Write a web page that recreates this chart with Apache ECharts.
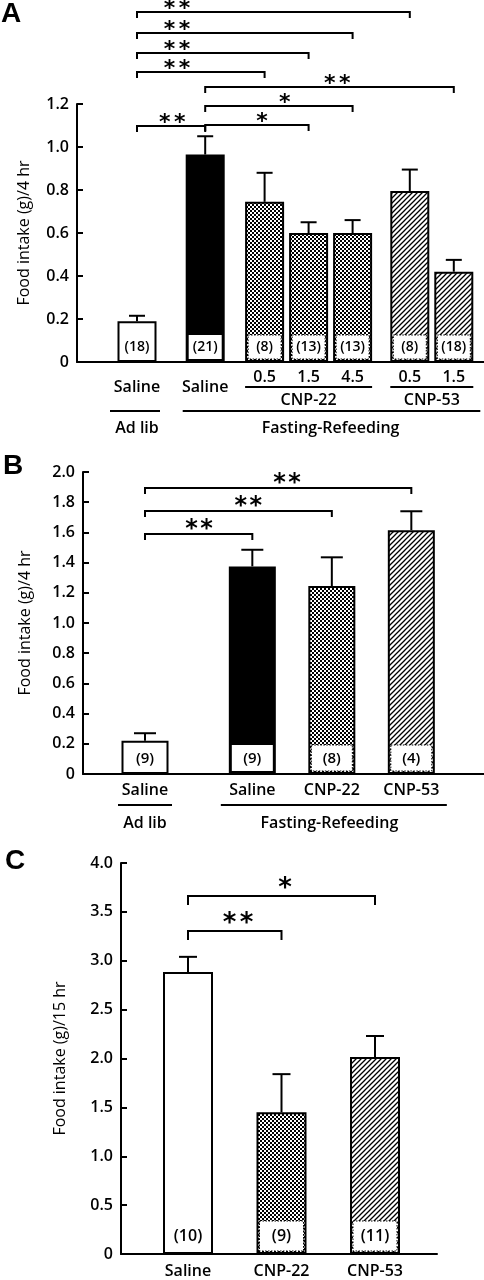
<!DOCTYPE html>
<html>
<head>
<meta charset="utf-8">
<script src="https://cdn.jsdelivr.net/npm/echarts@6/dist/echarts.min.js"></script>
<style>
html, body { margin: 0; padding: 0; background: #fff; }
#chart { width: 484px; height: 1280px; }
</style>
</head>
<body>
<div id="chart"></div>
<script>
// ---- data, panel A (4 hr, fasting-refeeding dose study)
var labelsA = ['Saline', 'Saline', '0.5', '1.5', '4.5', '0.5', '1.5'];
var groupA = ['adlib', 'saline', 'cnp22', 'cnp22', 'cnp22', 'cnp53', 'cnp53'];
var meanA = [0.19, 0.965, 0.745, 0.60, 0.60, 0.795, 0.42];
var semA = [0.025, 0.085, 0.135, 0.05, 0.06, 0.10, 0.055];
var nA = ['(18)', '(21)', '(8)', '(13)', '(13)', '(8)', '(18)'];
var sigA = [[0, 5, '**'], [0, 4, '**'], [0, 3, '**'], [0, 2, '**'], [1, 6, '**'], [1, 4, '*'], [1, 3, '*'], [0, 1, '**']];

// ---- data, panel B (4 hr)
var labelsB = ['Saline', 'Saline', 'CNP-22', 'CNP-53'];
var groupB = ['adlib', 'saline', 'cnp22', 'cnp53'];
var meanB = [0.22, 1.375, 1.245, 1.615];
var semB = [0.05, 0.11, 0.19, 0.125];
var nB = ['(9)', '(9)', '(8)', '(4)'];
var sigB = [[0, 3, '**'], [0, 2, '**'], [0, 1, '**']];

// ---- data, panel C (15 hr)
var labelsC = ['Saline', 'CNP-22', 'CNP-53'];
var groupC = ['adlib', 'cnp22', 'cnp53'];
var meanC = [2.885, 1.45, 2.015];
var semC = [0.155, 0.39, 0.215];
var nC = ['(10)', '(9)', '(11)'];
var sigC = [[0, 2, '*'], [0, 1, '**']];

var ticksA = { max: 1.2, step: 0.2 };
var ticksB = { max: 2.0, step: 0.2 };
var ticksC = { max: 4.0, step: 0.5 };

// ---- layout (slot positions on the x value axis, bracket heights in y units)
var slotA = [0, 1.55, 2.9, 3.9, 4.9, 6.2, 7.2];
var slotB = [0, 1.35, 2.35, 3.35];
var slotC = [0, 1, 2];
var levelA = [1.628, 1.530, 1.437, 1.349, 1.279, 1.191, 1.102, 1.098];
var starXA = [0.91, 0.91, 0.91, 0.91, 4.55, 3.36, 2.84, 0.80];
var levelB = [1.894, 1.742, 1.589];
var starXB = [1.786, 1.30, 0.68];
var levelC = [3.662, 3.304];
var starXC = [1.037, 0.535];

var FONT = '"Open Sans", Lato, sans-serif';

function makeCheck() {
	var c = document.createElement('canvas');
	c.width = 4; c.height = 4;
	var g = c.getContext('2d');
	g.fillStyle = '#fff'; g.fillRect(0, 0, 4, 4);
	g.fillStyle = '#000';
	g.fillRect(0, 0, 2, 2);
	g.fillRect(2, 2, 2, 2);
	return c;
}

function makeHatch() {
	var s = 5;
	var c = document.createElement('canvas');
	c.width = s; c.height = s;
	var g = c.getContext('2d');
	g.fillStyle = '#fff'; g.fillRect(0, 0, s, s);
	g.strokeStyle = '#000'; g.lineWidth = 1.3;
	g.beginPath();
	g.moveTo(0, s); g.lineTo(s, 0);
	g.moveTo(-1, 1); g.lineTo(1, -1);
	g.moveTo(s - 1, s + 1); g.lineTo(s + 1, s - 1);
	g.stroke();
	return c;
}

var fills = {
	adlib: '#fff',
	saline: '#000',
	cnp22: { image: makeCheck(), repeat: 'repeat' },
	cnp53: { image: makeHatch(), repeat: 'repeat' }
};

function barSeries(gi, slots, means, groups, width) {
	return {
		type: 'bar', xAxisIndex: gi, yAxisIndex: gi, barWidth: width, silent: true, z: 2,
		data: means.map(function(v, i) {
			return {
				value: [slots[i], v],
				itemStyle: { color: fills[groups[i]], borderColor: '#000', borderWidth: 2 }
			};
		})
	};
}

function errSeries(gi, slots, means, sems, cap) {
	return {
		type: 'custom', xAxisIndex: gi, yAxisIndex: gi, silent: true, z: 3, clip: false,
		data: means.map(function(v, i) { return [slots[i], v, sems[i]]; }),
		renderItem: function(params, api) {
			var x = api.value(0), m = api.value(1), e = api.value(2);
			var p0 = api.coord([x, m]);
			var p1 = api.coord([x, m + e]);
			return {
				type: 'group',
				children: [
					{ type: 'line', shape: { x1: p0[0], y1: p0[1], x2: p1[0], y2: p1[1] }, style: { stroke: '#000', lineWidth: 2 } },
					{ type: 'line', shape: { x1: p1[0] - cap, y1: p1[1], x2: p1[0] + cap, y2: p1[1] }, style: { stroke: '#000', lineWidth: 2 } }
				]
			};
		}
	};
}

// white box with the n of each group at the foot of the bar
function nSeries(gi, slots, ns, groups, half, boxH, fs) {
	return {
		type: 'custom', xAxisIndex: gi, yAxisIndex: gi, silent: true, z: 4, clip: false,
		data: ns.map(function(t, i) { return [slots[i], 0]; }),
		renderItem: function(params, api) {
			var i = params.dataIndex;
			var p = api.coord([api.value(0), 0]);
			var kids = [];
			var g = groups[i];
			if (g !== 'adlib') {
				kids.push({
					type: 'rect',
					shape: { x: p[0] - half + 3, y: p[1] - boxH, width: 2 * half - 6, height: boxH - 3 },
					style: g === 'saline' ? { fill: '#fff' } : { fill: '#fff', stroke: '#000', lineWidth: 1, lineDash: [1.5, 1.5] }
				});
			}
			kids.push({
				type: 'text', x: p[0], y: p[1] - boxH / 2 - 1,
				style: { text: ns[i], fill: '#000', fontSize: fs, fontWeight: 600, fontFamily: FONT, align: 'center', verticalAlign: 'middle' }
			});
			return { type: 'group', children: kids };
		}
	};
}

function sigSeries(gi, slots, sig, levels, starX, tick, fs, gap, starStep) {
	return {
		type: 'custom', xAxisIndex: gi, yAxisIndex: gi, silent: true, z: 5, clip: false,
		data: sig.map(function(s, i) { return [slots[s[0]], slots[s[1]], levels[i]]; }),
		renderItem: function(params, api) {
			var i = params.dataIndex;
			var a = api.coord([api.value(0), api.value(2)]);
			var b = api.coord([api.value(1), api.value(2)]);
			var c = api.coord([starX[i], api.value(2)]);
			var kids = [{
				type: 'polyline',
				shape: { points: [[a[0], a[1] + tick], [a[0], a[1]], [b[0], b[1]], [b[0], b[1] + tick]] },
				style: { stroke: '#000', lineWidth: 2, fill: null }
			}];
			var stars = sig[i][2].length;
			for (var k = 0; k < stars; k++) {
				kids.push({
					type: 'text',
					x: c[0] + (k - (stars - 1) / 2) * starStep,
					y: c[1] - gap,
					style: { text: '*', fill: '#000', fontSize: fs, fontWeight: 'bold', fontFamily: '"DejaVu Sans", sans-serif', align: 'center', verticalAlign: 'middle' }
				});
			}
			return { type: 'group', children: kids };
		}
	};
}

// text rows and rules under the x axis; dy in px below the axis
function underSeries(gi, items, rules) {
	var all = items.concat(rules);
	return {
		type: 'custom', xAxisIndex: gi, yAxisIndex: gi, silent: true, z: 5, clip: false,
		data: all.map(function(it) { return [it[0], 0]; }),
		renderItem: function(params, api) {
			var it = all[params.dataIndex];
			var p = api.coord([it[0], 0]);
			if (params.dataIndex < items.length) {
				return {
					type: 'text', x: p[0], y: p[1] + it[1],
					style: { text: it[2], fill: '#000', fontSize: 16, fontWeight: 600, fontFamily: FONT, align: 'center', verticalAlign: 'middle' }
				};
			}
			var q = api.coord([it[1], 0]);
			return {
				type: 'line',
				shape: { x1: p[0] + it[3], y1: p[1] + it[2], x2: q[0] + it[4], y2: p[1] + it[2] },
				style: { stroke: '#000', lineWidth: 2 }
			};
		}
	};
}

function yAxis(gi, t, name, gap) {
	return {
		type: 'value', gridIndex: gi, min: 0, max: t.max, interval: t.step,
		name: name, nameLocation: 'middle', nameGap: gap, nameRotate: 90,
		nameTextStyle: { color: '#000', fontSize: 16, fontFamily: FONT },
		axisLine: { show: true, onZero: false, lineStyle: { color: '#000', width: 2 } },
		axisTick: { show: true, inside: true, length: 6, lineStyle: { color: '#000', width: 2 } },
		axisLabel: {
			color: '#000', fontSize: 16, fontWeight: 600, fontFamily: FONT, margin: 8,
			formatter: function(v) { return v === 0 ? '0' : v.toFixed(1); }
		},
		splitLine: { show: false }
	};
}

function xAxis(gi, min, max) {
	return {
		type: 'value', gridIndex: gi, min: min, max: max,
		axisLine: { show: true, onZero: false, lineStyle: { color: '#000', width: 2 } },
		axisTick: { show: false }, axisLabel: { show: false }, splitLine: { show: false }
	};
}

var hwA = 19.5, hwB = 23.5, hwC = 25;

var underA = [
	[slotA[0], 25, labelsA[0]], [slotA[1], 25, labelsA[1]],
	[slotA[2], 15, labelsA[2]], [slotA[3], 15, labelsA[3]], [slotA[4], 15, labelsA[4]],
	[slotA[5], 15, labelsA[5]], [slotA[6], 15, labelsA[6]],
	[slotA[3], 38, 'CNP-22'], [(slotA[5] + slotA[6]) / 2, 38, 'CNP-53'],
	[slotA[0], 66, 'Ad lib'], [4.4, 66, 'Fasting-Refeeding']
];
var rulesA = [
	[slotA[2], slotA[4], 25, -hwA, hwA],
	[slotA[5], slotA[6], 25, -hwA, hwA],
	[slotA[0], slotA[0], 49, -27, 23],
	[slotA[1], slotA[6], 49, -hwA - 3, hwA + 7]
];
var underB = [
	[slotB[0], 16, labelsB[0]], [slotB[1], 16, labelsB[1]], [slotB[2], 16, labelsB[2]], [slotB[3], 16, labelsB[3]],
	[slotB[0], 49, 'Ad lib'], [2.32, 49, 'Fasting-Refeeding']
];
var rulesB = [
	[slotB[0], slotB[0], 31, -27, 27],
	[slotB[1], slotB[3], 31, -hwB - 8, hwB + 12]
];
var underC = [
	[slotC[0], 17, labelsC[0]], [slotC[1], 17, labelsC[1]], [slotC[2], 17, labelsC[2]]
];

var chart = echarts.init(document.getElementById('chart'), null, { renderer: 'canvas' });

var option = {
	backgroundColor: '#fff',
	animation: false,
	textStyle: { fontFamily: FONT },
	graphic: [
		{ type: 'text', left: 1, top: 0, style: { text: 'A', fill: '#000', font: 'bold 28px "Liberation Sans", Arial, sans-serif' } },
		{ type: 'text', left: 3, top: 452, style: { text: 'B', fill: '#000', font: 'bold 28px "Liberation Sans", Arial, sans-serif' } },
		{ type: 'text', left: 5, top: 847, style: { text: 'C', fill: '#000', font: 'bold 28px "Liberation Sans", Arial, sans-serif' } }
	],
	grid: [
		{ left: 77, top: 104, width: 407, height: 258 },
		{ left: 83, top: 472, width: 401, height: 302 },
		{ left: 121, top: 863, width: 316, height: 391 }
	],
	xAxis: [
		xAxis(0, -60 / 44, 347 / 44),
		xAxis(1, -62 / 79.5, 339 / 79.5),
		xAxis(2, -67 / 93.5, 249 / 93.5)
	],
	yAxis: [
		yAxis(0, ticksA, 'Food intake (g)/4 hr', 45),
		yAxis(1, ticksB, 'Food intake (g)/4 hr', 50),
		yAxis(2, ticksC, 'Food intake (g)/15 hr', 53)
	],
	series: [
		barSeries(0, slotA, meanA, groupA, 2 * hwA),
		errSeries(0, slotA, meanA, semA, 8),
		nSeries(0, slotA, nA, groupA, hwA, 27, 14),
		sigSeries(0, slotA, sigA, levelA, starXA, 6, 22, 3, 15),
		underSeries(0, underA, rulesA),

		barSeries(1, slotB, meanB, groupB, 2 * hwB),
		errSeries(1, slotB, meanB, semB, 11),
		nSeries(1, slotB, nB, groupB, hwB, 29, 15),
		sigSeries(1, slotB, sigB, levelB, starXB, 6, 24, 4, 15),
		underSeries(1, underB, rulesB),

		barSeries(2, slotC, meanC, groupC, 2 * hwC),
		errSeries(2, slotC, meanC, semC, 9),
		nSeries(2, slotC, nC, groupC, hwC, 33, 16),
		sigSeries(2, slotC, sigC, levelC, starXC, 9, 26, 7, 17),
		underSeries(2, underC, [])
	]
};

chart.setOption(option);
</script>
</body>
</html>
